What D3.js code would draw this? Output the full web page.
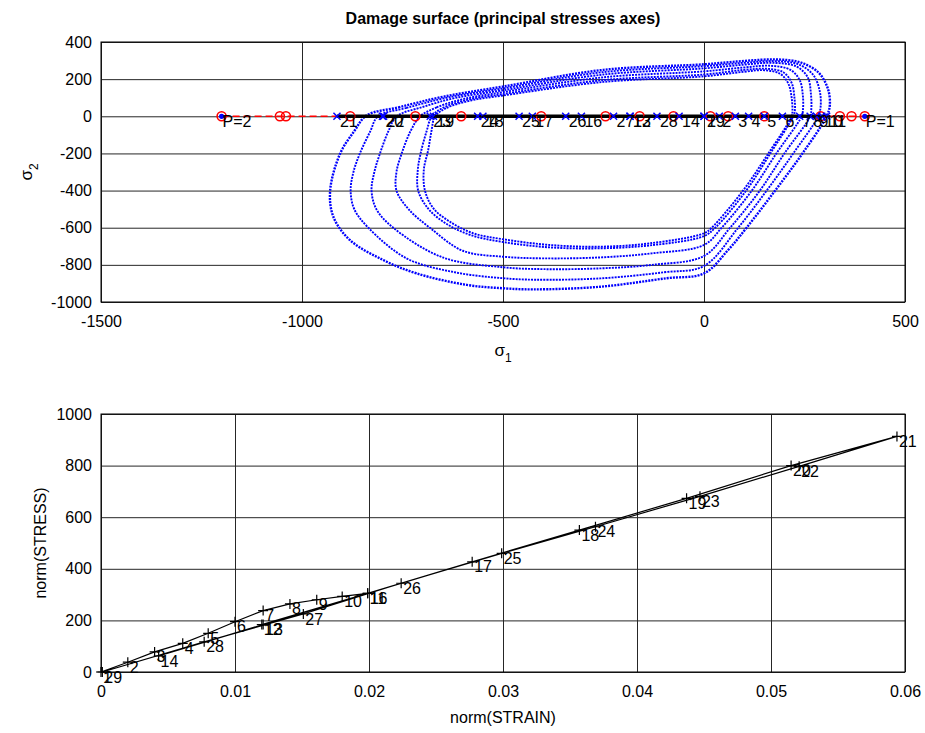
<!DOCTYPE html>
<html>
<head>
<meta charset="utf-8">
<script src="https://cdn.jsdelivr.net/npm/d3@7"></script>
<style>
  body { margin: 0; background: #fff; }
  svg text { font-family: "Liberation Sans", Arial, sans-serif; }
</style>
</head>
<body>
<div id="chart"></div>
<script>
// ---- damage surfaces (sigma1, sigma2), outer to inner ----
const surface1 = [[-839,5],[-760,48],[-650,105],[-500,160],[-250,250],[0,280],[100,298],[180,306],[240,290],[285,235],[308,150],[313,60],[305,0],[245,-200],[177,-400],[106,-600],[60,-720],[0,-846],[-93,-872],[-259,-918],[-425,-932],[-500,-926],[-590,-908],[-715,-846],[-798,-774],[-881,-666],[-922,-541],[-930,-400],[-905,-200],[-870,-80]];
const surface2 = [[-811,0],[-740,45],[-640,100],[-500,150],[-250,238],[0,270],[100,288],[175,297],[235,280],[272,222],[288,135],[290,50],[284,0],[222,-200],[156,-400],[85,-600],[0,-806],[-100,-840],[-259,-873],[-420,-880],[-500,-872],[-620,-840],[-740,-765],[-835,-600],[-870,-500],[-879,-400],[-872,-300],[-856,-200],[-830,-80]];
const surface3 = [[-764,0],[-700,50],[-620,98],[-500,140],[-250,225],[0,258],[100,278],[170,288],[230,268],[258,210],[266,120],[267,40],[264,0],[200,-200],[139,-400],[65,-600],[0,-752],[-130,-800],[-259,-819],[-400,-823],[-500,-813],[-650,-760],[-773,-600],[-815,-500],[-827,-400],[-820,-300],[-806,-200],[-785,-80]];
const surface4 = [[-706,0],[-665,48],[-600,92],[-500,130],[-250,210],[0,242],[100,263],[165,272],[215,250],[238,195],[246,110],[246,30],[243,0],[180,-200],[119,-400],[44,-600],[0,-693],[-130,-738],[-259,-760],[-400,-765],[-500,-756],[-600,-724],[-682,-600],[-735,-500],[-765,-400],[-765,-300],[-752,-200],[-730,-80]];
const surface5 = [[-677,0],[-650,45],[-590,88],[-500,120],[-250,195],[0,225],[100,250],[155,256],[198,236],[218,180],[225,100],[226,30],[222,0],[165,-200],[105,-400],[28,-600],[0,-645],[-134,-695],[-259,-711],[-383,-706],[-500,-677],[-580,-640],[-640,-580],[-685,-500],[-711,-400],[-712,-290],[-705,-200],[-690,-80]];
const surface6 = [[-669,0],[-640,45],[-580,85],[-500,112],[-250,185],[0,215],[100,240],[150,248],[190,228],[210,175],[218,100],[220,30],[218,0],[160,-200],[97,-400],[19,-600],[0,-630],[-134,-684],[-259,-702],[-383,-693],[-500,-662],[-574,-630],[-632,-568],[-673,-496],[-694,-401],[-697,-289],[-686,-181],[-678,-80]];

// ---- load steps ----
const stepLabels = ["1","2","3","4","5","6","7","8","9","10","11","12","13","14","16","17","18","19","20","21","22","23","24","25","26","27","28","29"];
const stepSigma1 = [0,38,78,111,150,195,238,264,280,293,305,-184,-184,-62,-305,-427,-550,-673,-800,-913,-797,-681,-563,-460,-344,-225,-117,0];
const stepStrain = [0,0.0020,0.0040,0.0061,0.0080,0.0100,0.0121,0.0141,0.0161,0.0180,0.0199,0.0120,0.0121,0.0043,0.0199,0.0277,0.0357,0.0437,0.0515,0.0594,0.0521,0.0447,0.0369,0.0299,0.0224,0.0151,0.0077,0.0001];

// ---- imposed path ----
const pathLabels = ["P=1","P=2"];
const pathSigma1 = [400,-1200];
const trialSigma1 = [-1200,-1055,-1040,-880,-718,-604,-405,-245,-160,-76,16,60,150,290,338,367,400];

// ---- axes ticks ----
const topXTicks = [-1500,-1000,-500,0,500];
const topYTicks = [-1000,-800,-600,-400,-200,0,200,400];
const botXTicks = [0,0.01,0.02,0.03,0.04,0.05,0.06];
const botYTicks = [0,200,400,600,800,1000];

const svg = d3.select("#chart").append("svg")
    .attr("width", 925)
    .attr("height", 733);

const left = 101, right = 905;
const topBox = { top: 42, bottom: 302 };
const botBox = { top: 414, bottom: 672 };

const xT = d3.scaleLinear().domain([-1500, 500]).range([left, right]);
const yT = d3.scaleLinear().domain([-1000, 400]).range([topBox.bottom, topBox.top]);
const xB = d3.scaleLinear().domain([0, 0.06]).range([left, right]);
const yB = d3.scaleLinear().domain([0, 1000]).range([botBox.bottom, botBox.top]);

const fmt = d => String(d);

function drawAxes(x, y, box, xTicks, yTicks) {
    const h = box.bottom - box.top;
    const w = right - left;
    const gx = svg.append("g")
        .attr("transform", `translate(0,${box.bottom})`)
        .call(d3.axisBottom(x).tickValues(xTicks).tickSize(-h).tickPadding(14).tickFormat(fmt));
    const gy = svg.append("g")
        .attr("transform", `translate(${left},0)`)
        .call(d3.axisLeft(y).tickValues(yTicks).tickSize(-w).tickPadding(9).tickFormat(fmt));
    [gx, gy].forEach(g => {
        g.select(".domain").remove();
        g.selectAll(".tick line").attr("stroke", "#262626").attr("stroke-width", 1);
        g.selectAll(".tick text").attr("fill", "#000").style("font-size", "16px");
    });
    svg.append("rect")
        .attr("x", left).attr("y", box.top)
        .attr("width", w).attr("height", h)
        .attr("fill", "none").attr("stroke", "#000").attr("stroke-width", 1);
}

// ================= top plot =================
drawAxes(xT, yT, topBox, topXTicks, topYTicks);

svg.append("clipPath").attr("id", "clipTop")
    .append("rect").attr("x", left).attr("y", topBox.top)
    .attr("width", right - left).attr("height", topBox.bottom - topBox.top);

const plotTop = svg.append("g").attr("clip-path", "url(#clipTop)");

const surfLine = d3.line()
    .x(d => xT(d[0]))
    .y(d => yT(d[1]))
    .curve(d3.curveCatmullRomClosed.alpha(0.5));

[surface1, surface2, surface3, surface4, surface5, surface6].forEach((s, i) => {
    plotTop.append("path")
        .attr("d", surfLine(s))
        .attr("fill", "none")
        .attr("stroke", "#0000ff")
        .attr("stroke-width", i === 0 ? 2.4 : 1.9)
        .attr("stroke-dasharray", "2 1.1");
});

// imposed path (red dashed)
plotTop.append("line")
    .attr("x1", xT(d3.min(pathSigma1))).attr("x2", xT(d3.max(pathSigma1)))
    .attr("y1", yT(0)).attr("y2", yT(0))
    .attr("stroke", "#ff0000").attr("stroke-width", 1.5)
    .attr("stroke-dasharray", "7 4");

// computed stress path (black)
plotTop.append("path")
    .attr("d", d3.line().x(d => xT(d)).y(() => yT(0))(stepSigma1))
    .attr("fill", "none")
    .attr("stroke", "#000")
    .attr("stroke-width", 3.5);

// trial points (red circles)
plotTop.selectAll(".trial")
    .data(trialSigma1)
    .enter().append("circle")
    .attr("class", "trial")
    .attr("cx", d => xT(d)).attr("cy", yT(0)).attr("r", 4.5)
    .attr("fill", "none").attr("stroke", "#ff0000").attr("stroke-width", 1.6);

// computed points (blue x)
plotTop.selectAll(".step")
    .data(stepSigma1)
    .enter().append("path")
    .attr("class", "step")
    .attr("transform", d => `translate(${xT(d)},${yT(0)}) rotate(45)`)
    .attr("d", "M-5,0H5M0,-5V5")
    .attr("fill", "none").attr("stroke", "#0000ff").attr("stroke-width", 1.5);

// end points of imposed path
plotTop.selectAll(".pdot")
    .data(pathSigma1)
    .enter().append("circle")
    .attr("cx", d => xT(d)).attr("cy", yT(0)).attr("r", 2.6)
    .attr("fill", "#0000ff");

svg.selectAll(".stepLabelTop")
    .data(stepLabels)
    .enter().append("text")
    .attr("x", (d, i) => xT(stepSigma1[i]) + 3)
    .attr("y", yT(0) + 5)
    .attr("dy", "0.35em")
    .style("font-size", "16px")
    .text(d => d);

svg.selectAll(".pLabel")
    .data(pathLabels)
    .enter().append("text")
    .attr("x", (d, i) => xT(pathSigma1[i]) + 1)
    .attr("y", yT(0) + 5)
    .attr("dy", "0.35em")
    .style("font-size", "16px")
    .text(d => d);

// titles and labels
svg.append("text")
    .attr("x", (left + right) / 2).attr("y", 24)
    .attr("text-anchor", "middle")
    .style("font-size", "16px").style("font-weight", "bold")
    .text("Damage surface (principal stresses axes)");

const s1 = svg.append("text")
    .attr("x", (left + right) / 2).attr("y", 356)
    .attr("text-anchor", "middle")
    .style("font-size", "17px");
s1.append("tspan").text("σ");
s1.append("tspan").attr("dy", 6).style("font-size", "12px").text("1");

const s2 = svg.append("text")
    .attr("transform", `translate(32,${(topBox.top + topBox.bottom) / 2}) rotate(-90)`)
    .attr("text-anchor", "middle")
    .style("font-size", "17px");
s2.append("tspan").text("σ");
s2.append("tspan").attr("dy", 6).style("font-size", "12px").text("2");

// ================= bottom plot =================
drawAxes(xB, yB, botBox, botXTicks, botYTicks);

const plotBot = svg.append("g");

const ssLine = d3.line()
    .x(d => xB(d[0]))
    .y(d => yB(Math.abs(d[1])));

const ssData = stepStrain.map((e, i) => [e, stepSigma1[i]]);

plotBot.append("path")
    .attr("d", ssLine(ssData))
    .attr("fill", "none")
    .attr("stroke", "#000")
    .attr("stroke-width", 1.2);

plotBot.selectAll(".plus")
    .data(ssData)
    .enter().append("path")
    .attr("transform", d => `translate(${xB(d[0])},${yB(Math.abs(d[1]))})`)
    .attr("d", "M-5,0H5M0,-5V5")
    .attr("stroke", "#000").attr("stroke-width", 1.2);

plotBot.selectAll(".stepLabelBot")
    .data(stepLabels)
    .enter().append("text")
    .attr("x", (d, i) => xB(stepStrain[i]) + 2)
    .attr("y", (d, i) => yB(Math.abs(stepSigma1[i])) + 5)
    .attr("dy", "0.35em")
    .style("font-size", "16px")
    .text(d => d);

svg.append("text")
    .attr("x", (left + right) / 2).attr("y", 723)
    .attr("text-anchor", "middle")
    .style("font-size", "16px")
    .text("norm(STRAIN)");

svg.append("text")
    .attr("transform", `translate(46,${(botBox.top + botBox.bottom) / 2}) rotate(-90)`)
    .attr("text-anchor", "middle")
    .style("font-size", "16px")
    .text("norm(STRESS)");
</script>
</body>
</html>
